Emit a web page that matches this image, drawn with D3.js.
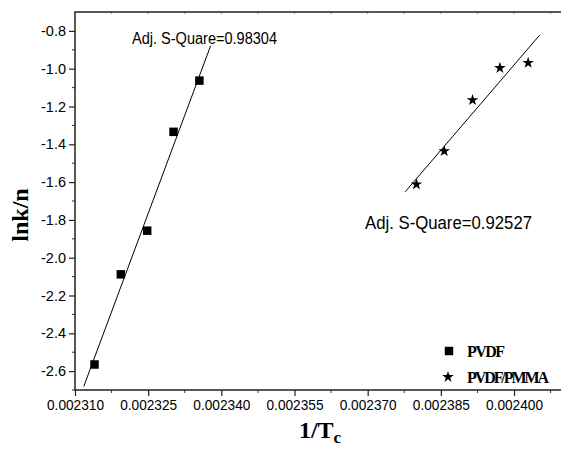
<!DOCTYPE html>
<html>
<head>
<meta charset="utf-8">
<script src="https://cdn.jsdelivr.net/npm/d3@7"></script>
<style>
  body { margin: 0; background: #fff; }
  svg { display: block; }
</style>
</head>
<body>
<div id="chart"></div>
<script>
// PVDF (squares)
const pvdfX = [0.0023140, 0.0023194, 0.0023248, 0.0023302, 0.0023355];
const pvdfY = [-2.565, -2.088, -1.857, -1.334, -1.063];
// PVDF/PMMA (stars)
const blendX = [0.0023800, 0.0023857, 0.0023915, 0.0023971, 0.0024029];
const blendY = [-1.612, -1.436, -1.166, -0.996, -0.969];
// linear fits, end points as drawn
const pvdfFitX = [0.0023118, 0.0023378];
const pvdfFitY = [-2.681, -0.879];
const blendFitX = [0.0023777, 0.0024053];
const blendFitY = [-1.651, -0.821];

const xTicks = [0.002310, 0.002325, 0.002340, 0.002355, 0.002370, 0.002385, 0.002400];
const yTicks = [-2.6, -2.4, -2.2, -2.0, -1.8, -1.6, -1.4, -1.2, -1.0, -0.8];
const fitLabels = ["Adj. S-Quare=0.98304", "Adj. S-Quare=0.92527"];
const seriesNames = ["PVDF", "PVDF/PMMA"];

const width = 561, height = 453;
const margin = {top: 12, left: 75, bottom: 63};

const x = d3.scaleLinear()
  .domain([0.002310, 0.002410])
  .range([margin.left, 562.8]);
const y = d3.scaleLinear()
  .domain([-2.7, -0.7])
  .range([height - margin.bottom, margin.top]);

const svg = d3.select("#chart").append("svg")
  .attr("width", width)
  .attr("height", height)
  .attr("viewBox", [0, 0, width, height]);

const tickFont = "'Liberation Sans', Arial, sans-serif";
const titleFont = "'Liberation Serif', 'Times New Roman', serif";
// plain hyphen instead of the unicode minus
const fmtY = d => d3.format(".1f")(d).replace("\u2212", "-");

// minor ticks halfway between the labelled ones
const xMinor = d3.range(0, 14).map(i => 0.002310 + 0.0000075 * i).filter((d, i) => i % 2 === 1);
const yMinor = d3.range(0, 10).map(i => -2.7 + 0.2 * i);

const xAxis = g => g
  .attr("transform", `translate(0,${y(-2.7)})`)
  .call(d3.axisBottom(x).tickValues(xTicks).tickFormat(d3.format(".6f")).tickSize(6).tickPadding(4).tickSizeOuter(0))
  .call(g => g.select(".domain").remove())
  .call(g => g.selectAll(".tick line").attr("stroke", "#222").attr("stroke-width", 1.2))
  .call(g => g.selectAll("text").attr("font-family", tickFont).attr("font-size", 14.5).attr("fill", "#000")
    .attr("textLength", 57).attr("lengthAdjust", "spacingAndGlyphs"));

const yAxis = g => g
  .attr("transform", `translate(${margin.left},0)`)
  .call(d3.axisLeft(y).tickValues(yTicks).tickFormat(fmtY).tickSize(6).tickPadding(3).tickSizeOuter(0))
  .call(g => g.select(".domain").remove())
  .call(g => g.selectAll(".tick line").attr("stroke", "#222").attr("stroke-width", 1.2))
  .call(g => g.selectAll("text").attr("font-family", tickFont).attr("font-size", 14.5).attr("fill", "#000"));

svg.append("g").call(xAxis);
svg.append("g").call(yAxis);

// minor ticks
svg.append("g")
  .attr("stroke", "#333")
  .selectAll("line")
  .data(xMinor)
  .join("line")
  .attr("x1", d => x(d)).attr("x2", d => x(d))
  .attr("y1", y(-2.7)).attr("y2", y(-2.7) + 3);

svg.append("g")
  .attr("stroke", "#333")
  .selectAll("line")
  .data(yMinor)
  .join("line")
  .attr("x1", margin.left - 3).attr("x2", margin.left)
  .attr("y1", d => y(d)).attr("y2", d => y(d));

// top axis: only tiny inward marks
svg.append("g")
  .attr("stroke", "#999")
  .selectAll("line")
  .data(d3.range(1, 14).map(i => 0.002310 + 0.0000075 * i))
  .join("line")
  .attr("x1", d => x(d)).attr("x2", d => x(d))
  .attr("y1", y(-0.7)).attr("y2", y(-0.7) + 2);

// frame
svg.append("path")
  .attr("fill", "none")
  .attr("stroke", "#222")
  .attr("stroke-width", 1.5)
  .attr("d", `M${width + 2},${y(-0.7)}H${margin.left}V${y(-2.7)}H${width + 2}`);

// fit lines
const line = d3.line().x(d => x(d[0])).y(d => y(d[1]));
svg.append("path")
  .datum(d3.zip(pvdfFitX, pvdfFitY))
  .attr("fill", "none").attr("stroke", "#000").attr("stroke-width", 1)
  .attr("d", line);
svg.append("path")
  .datum(d3.zip(blendFitX, blendFitY))
  .attr("fill", "none").attr("stroke", "#000").attr("stroke-width", 1)
  .attr("d", line);

// points
const square = d3.symbol().type(d3.symbolSquare).size(72);
const star = d3.symbol().type(d3.symbolStar).size(42);

svg.append("g")
  .selectAll("path")
  .data(d3.zip(pvdfX, pvdfY))
  .join("path")
  .attr("d", square)
  .attr("fill", "#000")
  .attr("transform", d => `translate(${x(d[0])},${y(d[1])})`);

svg.append("g")
  .selectAll("path")
  .data(d3.zip(blendX, blendY))
  .join("path")
  .attr("d", star)
  .attr("fill", "#000")
  .attr("transform", d => `translate(${x(d[0])},${y(d[1])})`);

// fit annotations (the source font is a narrow one)
svg.append("text")
  .attr("x", 132).attr("y", 44)
  .attr("font-family", tickFont).attr("font-size", 16)
  .attr("textLength", 145).attr("lengthAdjust", "spacingAndGlyphs")
  .text(fitLabels[0]);
svg.append("text")
  .attr("x", 365).attr("y", 229)
  .attr("font-family", tickFont).attr("font-size", 17.5)
  .attr("textLength", 167).attr("lengthAdjust", "spacingAndGlyphs")
  .text(fitLabels[1]);

// legend
const legend = svg.append("g")
  .attr("font-family", titleFont).attr("font-weight", "bold").attr("font-size", 16)
  .attr("lengthAdjust", "spacingAndGlyphs");
legend.append("path").attr("d", square).attr("transform", "translate(449,351)");
legend.append("text").attr("x", 467).attr("y", 357).attr("textLength", 38).text(seriesNames[0]);
legend.append("path").attr("d", star).attr("transform", "translate(448,377)");
legend.append("text").attr("x", 467).attr("y", 383).attr("textLength", 82).text(seriesNames[1]);

// axis titles
svg.append("text")
  .attr("transform", "translate(28,215) rotate(-90)")
  .attr("text-anchor", "middle")
  .attr("font-family", titleFont).attr("font-weight", "bold").attr("font-size", 24)
  .text("lnk/n");

const xt = svg.append("text")
  .attr("x", 320).attr("y", 438)
  .attr("text-anchor", "middle")
  .attr("font-family", titleFont).attr("font-weight", "bold").attr("font-size", 24);
xt.append("tspan").text("1/T");
xt.append("tspan").attr("dy", 5).attr("font-size", 17).text("c");
</script>
</body>
</html>
